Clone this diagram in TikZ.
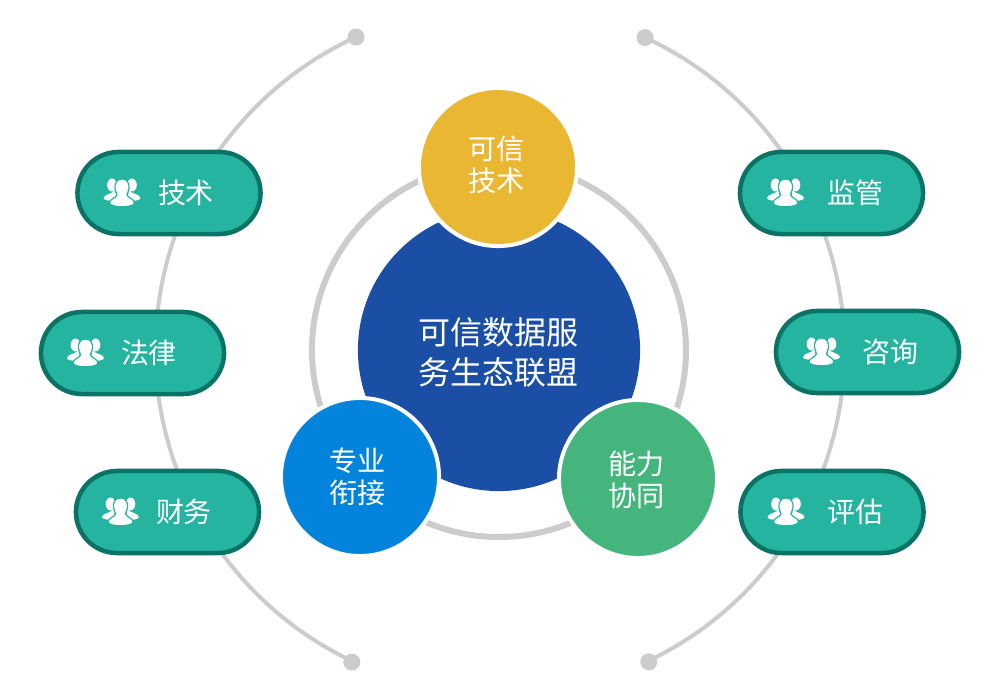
\documentclass[tikz,border=0pt]{standalone}
\usepackage{fontspec}
\setmainfont{Noto Sans CJK SC}
\usetikzlibrary{shapes.misc}
\definecolor{ringgrey}{HTML}{CCCCCC}
\definecolor{corecol}{HTML}{1B4FA5}
\definecolor{techcol}{HTML}{EAB732}
\definecolor{procol}{HTML}{0284DC}
\definecolor{abilitycol}{HTML}{45B57E}
\definecolor{pillcol}{HTML}{25B4A0}
\definecolor{pilledge}{HTML}{0B7366}
\tikzset{
    arcline/.style={draw=ringgrey,line width=.04cm},
    enddot/.style={circle,fill=ringgrey,minimum size=.17cm,inner sep=0pt},
    core/.style={circle,fill=corecol,minimum size=2.82cm,inner sep=0pt},
    coretext/.style={text=white,inner sep=0pt,align=center,font=\fontsize{9.1}{11.4}\selectfont},
    petal/.style={circle,draw=white,line width=.04cm,minimum size=1.58cm,inner sep=0pt},
    petaltext/.style={text=white,inner sep=0pt,align=center,font=\fontsize{8}{9.05}\selectfont},
    pill/.style={rounded rectangle,draw=pilledge,fill=pillcol,line width=.045cm,
                 minimum width=1.83cm,minimum height=.82cm,inner sep=0pt},
    pilltext/.style={text=white,inner sep=0pt,font=\fontsize{7.95}{9.1}\selectfont},
    pics/people/.style={code={
        % Seitenfiguren
        \foreach \s in {-1,1}{
            \fill [white] (\s*10,8) ellipse (4.8 and 6.5);
            \fill [white] (\s*7,3) .. controls (\s*9,-1) and (\s*18,-1) .. (\s*18.5,-5)
                .. controls (\s*18,-8) and (\s*10,-8) .. (\s*5,-8) -- cycle;
        }
        % Mittelfigur
        \fill [white,draw=pillcol,line width=.012cm]
            (0,14) .. controls (5,14) and (7.5,10) .. (7,5)
            .. controls (6.5,1) and (5,0) .. (5,-2)
            .. controls (6,-5) and (12.5,-6) .. (12.5,-10)
            .. controls (12,-15) and (-12,-15) .. (-12.5,-10)
            .. controls (-12.5,-6) and (-6,-5) .. (-5,-2)
            .. controls (-5,0) and (-6.5,1) .. (-7,5)
            .. controls (-7.5,10) and (-5,14) .. (0,14) -- cycle;
    }}
}
\begin{document}
\begin{tikzpicture}[x=.01cm,y=.01cm]
    \useasboundingbox (-500,-350) rectangle (500,350);
    % Bögen außen
    \coordinate (leftTop) at (114.7:344.5);
    \coordinate (leftBottom) at (244.6:345.5);
    \coordinate (rightTop) at (65.1:344.5);
    \coordinate (rightBottom) at (-64.5:345.5);
    \draw [arcline] (leftTop) arc (114.7:244.6:344.5);
    \draw [arcline] (rightTop) arc (65.1:-64.5:344.5);
    \node [enddot] (dotLT) at (leftTop) {};
    \node [enddot] (dotLB) at (leftBottom) {};
    \node [enddot] (dotRT) at (rightTop) {};
    \node [enddot] (dotRB) at (rightBottom) {};
    % Ring und Kreise
    \draw [draw=ringgrey,line width=.06cm] (-1,0) circle (187);
    \node [core] (center) at (-1,0) {};
    \node [coretext] (centerText) at (-1,-2) {可信数据服\\务生态联盟};
    \node [petal,fill=techcol] (tech) at (-2,183) {};
    \node [petal,fill=procol] (pro) at (-140,-127) {};
    \node [petal,fill=abilitycol] (ability) at (138,-129) {};
    \path (tech) ++(-1,2) node [petaltext] (techText) {可信\\技术};
    \path (pro) ++(-2,0) node [petaltext] (proText) {专业\\衔接};
    \path (ability) ++(-1,-1) node [petaltext] (abilityText) {能力\\协同};
    % Gruppen
    \foreach \name/\x/\y/\dx/\dy/\txt in {
        pillTech/-331/157/-47/17/技术,
        pillLaw/-367.5/-3/-47/16.5/法律,
        pillFin/-332.5/-162/-47/16.5/财务,
        pillSup/331.5/157/-46/23.5/监管,
        pillCon/367.5/-2/-46/23/咨询,
        pillEva/332/-162/-46/23.5/评估
    }{
        \node [pill] (\name) at (\x,\y) {};
        \path (\name) ++(\dx,0) pic {people};
        \path (\name) ++(\dy,0) node [pilltext] (\name Text) {\txt};
    }
\end{tikzpicture}
\end{document}
